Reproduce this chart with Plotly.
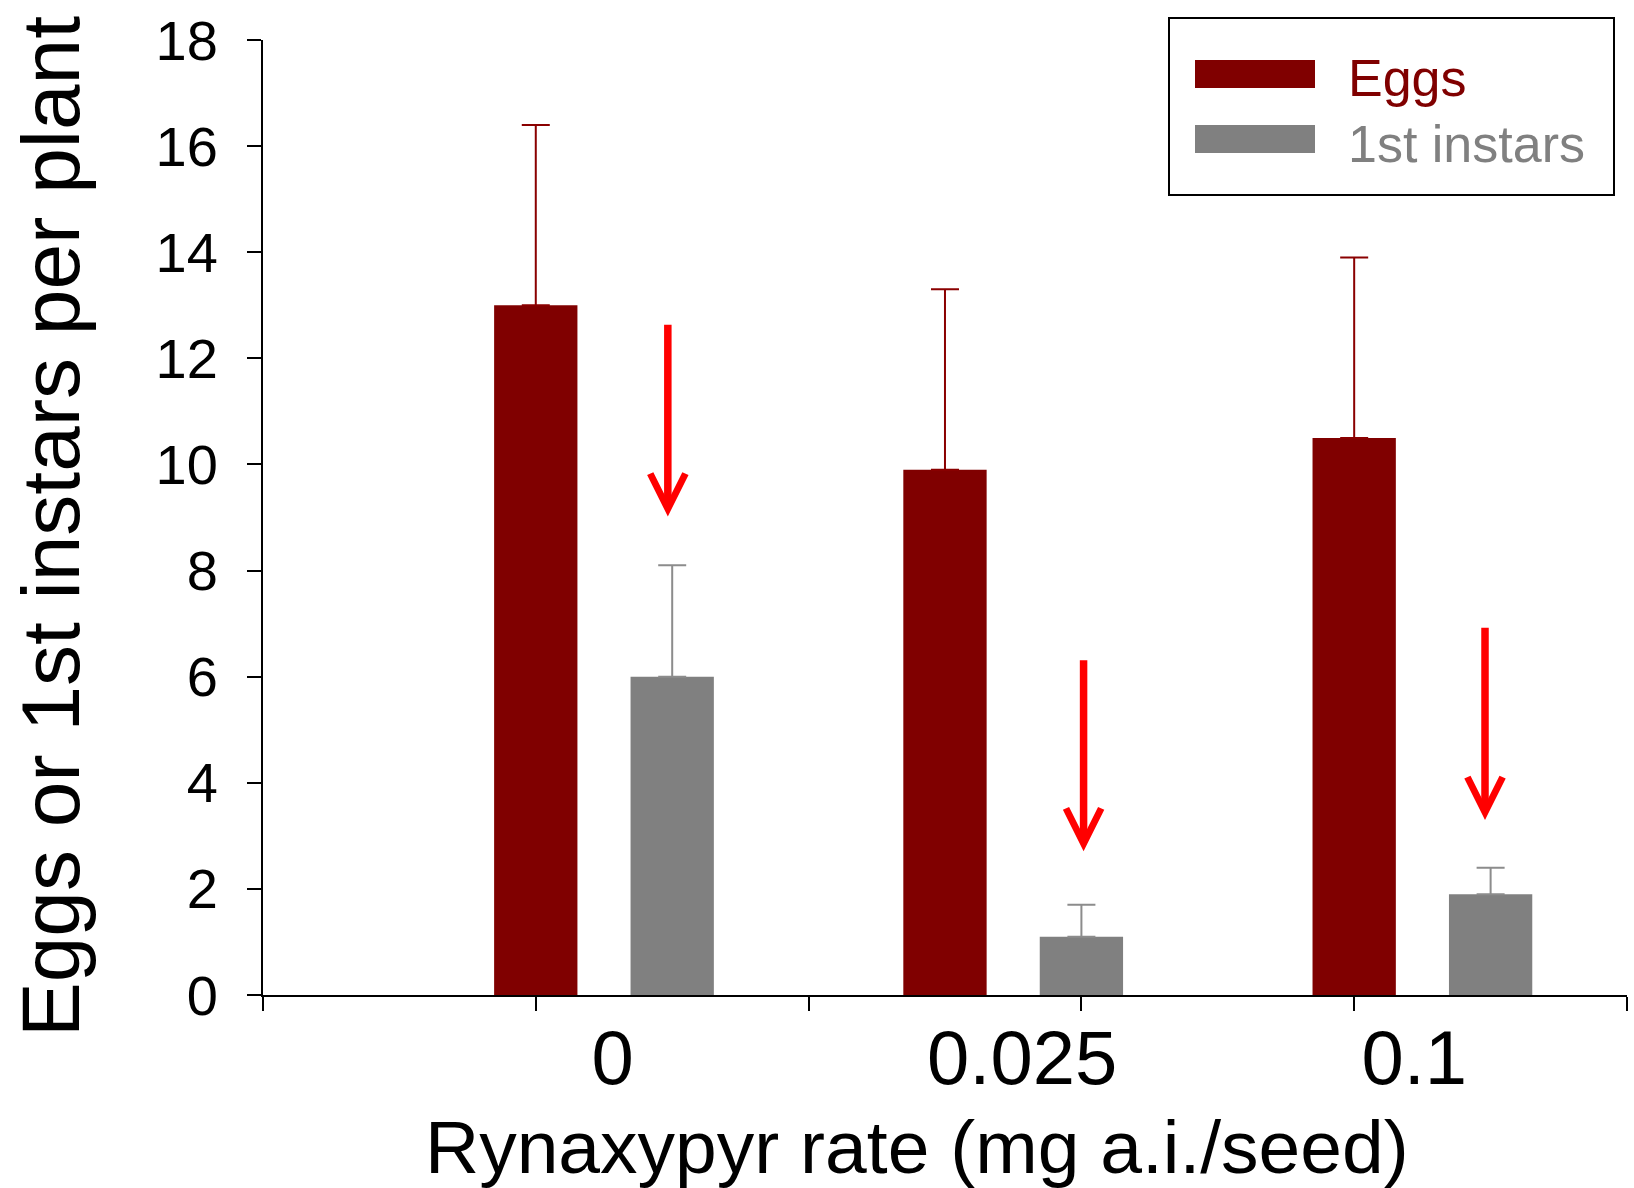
import plotly.graph_objects as go

# ---- data ----
categories = ["0", "0.025", "0.1"]
series_names = ["Eggs", "1st instars"]
eggs_mean = [13.0, 9.9, 10.5]
eggs_err = [3.4, 3.4, 3.4]
instars_mean = [6.0, 1.1, 1.9]
instars_err = [2.1, 0.6, 0.5]
arrow_x_offset = [0.156, 0.172, 0.153]   # relative to category centre
arrow_tail = [12.66, 6.34, 6.95]
arrow_tip = [9.02, 2.71, 3.30]
y_ticks = [0, 2, 4, 6, 8, 10, 12, 14, 16, 18]
x_title = "Rynaxypyr rate (mg a.i./seed)"
y_title = "Eggs or 1st instars per plant"

EGG_C = "#800000"
INS_C = "#808080"
FONT = "Liberation Sans, Arial, sans-serif"

W, H = 1634, 1188
ML, MR, MT, MB = 263, 7, 40, 193
PW, PH = W - ML - MR, H - MT - MB

def px_x(p):
    return (p - ML) / PW

def px_y(p):
    return (H - MB - p) / PH

xpos = list(range(len(categories)))
label_shift = [0.021, 0.022, -0.02]   # small placement offsets of category labels
bw = 0.2036

fig = go.Figure()
fig.add_trace(go.Bar(
    x=xpos, y=eggs_mean, name=series_names[0], width=bw, offset=-0.1667 - bw / 2,
    marker=dict(color=EGG_C, line=dict(width=0)),
    error_y=dict(type="data", array=eggs_err, arrayminus=[0] * 3, symmetric=False,
                 color="#8a0000", thickness=2, width=14),
    showlegend=False,
))
fig.add_trace(go.Bar(
    x=xpos, y=instars_mean, name=series_names[1], width=bw, offset=0.1667 - bw / 2,
    marker=dict(color=INS_C, line=dict(width=0)),
    error_y=dict(type="data", array=instars_err, arrayminus=[0] * 3, symmetric=False,
                 color="#8c8c8c", thickness=2, width=14),
    showlegend=False,
))

# red arrows
for i in range(len(categories)):
    xa = xpos[i] + arrow_x_offset[i]
    fig.add_annotation(x=xa, y=arrow_tip[i], ax=xa, ay=arrow_tail[i],
                       xref="x", yref="y", axref="x", ayref="y", text="",
                       showarrow=True, arrowhead=5, arrowsize=0.92, arrowwidth=7.5,
                       arrowcolor="#ff0000")

tick_marks = [-0.8333 + k * (2 / 3) for k in range(6)]

fig.update_layout(
    width=W, height=H, margin=dict(l=ML, r=MR, t=MT, b=MB),
    plot_bgcolor="white", paper_bgcolor="white",
    barmode="overlay",
    font=dict(family=FONT, color="black"),
    xaxis=dict(range=[-0.8333, 2.5], tickvals=tick_marks, showticklabels=False,
               ticks="outside", ticklen=14, tickwidth=2, tickcolor="black",
               showline=True, linewidth=2, linecolor="black", showgrid=False,
               zeroline=False, fixedrange=True),
    xaxis2=dict(range=[-0.8333, 2.5], overlaying="x", side="bottom", anchor="y",
                tickvals=[p + s for p, s in zip(xpos, label_shift)], ticktext=categories,
                ticks="", showline=False,
                showgrid=False, zeroline=False, ticklabelstandoff=12,
                tickfont=dict(family=FONT, size=76, color="black")),
    yaxis=dict(range=[0, 18], tickvals=y_ticks, ticks="outside", ticklen=14,
               tickwidth=2, tickcolor="black", showline=True, linewidth=2,
               linecolor="black", showgrid=False, zeroline=False,
               ticklabelstandoff=18,
               tickfont=dict(family=FONT, size=56, color="black")),
)
# invisible trace to activate xaxis2
fig.add_trace(go.Scatter(x=[0], y=[0], xaxis="x2", yaxis="y", mode="markers",
                         marker=dict(opacity=0), showlegend=False, hoverinfo="skip"))

# axis titles
fig.add_annotation(text=x_title, xref="paper", yref="paper", x=px_x(917), y=px_y(1147),
                   xanchor="center", yanchor="middle", showarrow=False,
                   font=dict(family=FONT, size=75, color="black"))
fig.add_annotation(text=y_title, xref="paper", yref="paper", x=px_x(50), y=px_y(527),
                   xanchor="center", yanchor="middle", textangle=-90, showarrow=False,
                   font=dict(family=FONT, size=82, color="black"))

# legend box
fig.add_shape(type="rect", xref="paper", yref="paper", x0=px_x(1169), x1=px_x(1614),
              y0=px_y(195), y1=px_y(18), line=dict(color="black", width=2),
              fillcolor="white", layer="above")
for name, col, y0, y1, ty in [(series_names[0], EGG_C, 60, 88, 78),
                              (series_names[1], INS_C, 125, 153, 144)]:
    fig.add_shape(type="rect", xref="paper", yref="paper", x0=px_x(1195), x1=px_x(1315),
                  y0=px_y(y1), y1=px_y(y0), line=dict(width=0), fillcolor=col, layer="above")
    fig.add_annotation(text=name, xref="paper", yref="paper", x=px_x(1346), y=px_y(ty),
                       xanchor="left", yanchor="middle", showarrow=False,
                       font=dict(family=FONT, size=52, color=col))

fig.write_html("out.html")
